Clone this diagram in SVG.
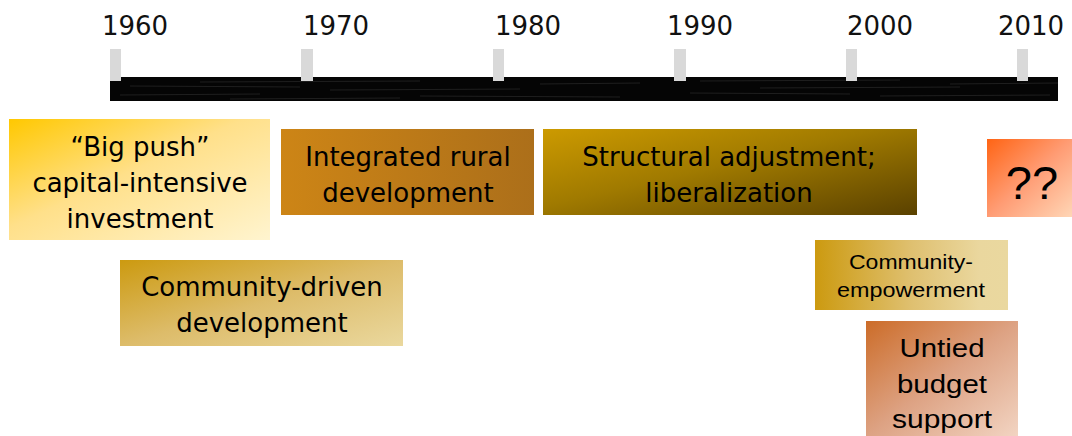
<svg xmlns="http://www.w3.org/2000/svg" width="1072" height="436" viewBox="0 0 1072 436">
  <defs>
    <linearGradient id="gBig" x1="0" y1="0" x2="1" y2="1">
      <stop offset="0" stop-color="#FFC800"/>
      <stop offset="0.45" stop-color="#FFE08A"/>
      <stop offset="1" stop-color="#FFF4CF"/>
    </linearGradient>
    <linearGradient id="gInt" x1="0" y1="0" x2="1" y2="0">
      <stop offset="0" stop-color="#CD8516"/>
      <stop offset="1" stop-color="#AC6F1A"/>
    </linearGradient>
    <linearGradient id="gStr" x1="0" y1="0" x2="1" y2="1">
      <stop offset="0" stop-color="#CC9A00"/>
      <stop offset="0.45" stop-color="#A07A00"/>
      <stop offset="1" stop-color="#5A4100"/>
    </linearGradient>
    <linearGradient id="gQ" x1="0" y1="0" x2="1" y2="1">
      <stop offset="0" stop-color="#FF6414"/>
      <stop offset="0.5" stop-color="#FF9C74"/>
      <stop offset="1" stop-color="#FFD6B6"/>
    </linearGradient>
    <linearGradient id="gEmp" x1="0" y1="0" x2="1" y2="0">
      <stop offset="0" stop-color="#CC9A10"/>
      <stop offset="0.5" stop-color="#DFC070"/>
      <stop offset="0.85" stop-color="#EAD79E"/>
      <stop offset="1" stop-color="#EAD89F"/>
    </linearGradient>
    <linearGradient id="gUnt" x1="0" y1="0" x2="1" y2="1">
      <stop offset="0" stop-color="#CC6C28"/>
      <stop offset="0.5" stop-color="#DDA283"/>
      <stop offset="1" stop-color="#F2D4C2"/>
    </linearGradient>
    <linearGradient id="gCdd" x1="0" y1="0" x2="1" y2="1">
      <stop offset="0" stop-color="#CC9A10"/>
      <stop offset="0.5" stop-color="#DDBC6A"/>
      <stop offset="1" stop-color="#EAD89E"/>
    </linearGradient>
  </defs>
  <style>
    .yr { font-family: "DejaVu Sans", Verdana, sans-serif; font-size: 26px; fill: #111; text-anchor: middle; }
    .tk { fill: #D9D9D9; }
    .lbl { font-family: "DejaVu Sans", Verdana, sans-serif; font-size: 26px; fill: #000; text-anchor: middle; }
    .lbla { font-family: "Liberation Sans", Arial, sans-serif; fill: #000; text-anchor: middle; }
    .streak { stroke: #5a5a5a; stroke-width: 1; opacity: 0.3; }
  </style>

  <g id="timeline">
    <rect x="110" y="77" width="948" height="24" fill="#050505"/>
    <line class="streak" x1="200" y1="82" x2="420" y2="81"/>
    <line class="streak" x1="130" y1="86" x2="300" y2="87"/>
    <line class="streak" x1="330" y1="90" x2="520" y2="89"/>
    <line class="streak" x1="120" y1="95" x2="260" y2="94"/>
    <line class="streak" x1="420" y1="96" x2="620" y2="97"/>
    <line class="streak" x1="540" y1="84" x2="640" y2="83"/>
    <line class="streak" x1="700" y1="81" x2="900" y2="80"/>
    <line class="streak" x1="760" y1="88" x2="960" y2="87"/>
    <line class="streak" x1="690" y1="93" x2="850" y2="94"/>
    <line class="streak" x1="880" y1="96" x2="1050" y2="95"/>
    <line class="streak" x1="950" y1="84" x2="1058" y2="83"/>
    <line class="streak" x1="230" y1="99" x2="400" y2="98"/>
    <rect class="tk" x="110" y="49" width="11" height="32"/>
    <rect class="tk" x="301" y="49" width="12" height="32"/>
    <rect class="tk" x="493" y="49" width="11" height="32"/>
    <rect class="tk" x="674" y="49" width="12" height="32"/>
    <rect class="tk" x="846" y="49" width="11" height="32"/>
    <rect class="tk" x="1017" y="49" width="11" height="32"/>
    <text class="yr" x="135" y="35">1960</text>
    <text class="yr" x="336" y="35">1970</text>
    <text class="yr" x="528" y="35">1980</text>
    <text class="yr" x="700" y="35">1990</text>
    <text class="yr" x="880" y="35">2000</text>
    <text class="yr" x="1031" y="35">2010</text>
  </g>

  <g id="big-push">
    <rect x="9" y="119" width="261" height="121" fill="url(#gBig)"/>
    <text class="lbl" x="140" y="156">“Big push”</text>
    <text class="lbl" x="140" y="192">capital-intensive</text>
    <text class="lbl" x="140" y="228">investment</text>
  </g>

  <g id="integrated-rural">
    <rect x="281" y="129" width="253" height="86" fill="url(#gInt)"/>
    <text class="lbl" x="408" y="166">Integrated rural</text>
    <text class="lbl" x="408" y="202">development</text>
  </g>

  <g id="structural">
    <rect x="543" y="129" width="374" height="86" fill="url(#gStr)"/>
    <text class="lbl" x="729" y="166">Structural adjustment;</text>
    <text class="lbl" x="729" y="202">liberalization</text>
  </g>

  <g id="unknown">
    <rect x="987" y="139" width="85" height="78" fill="url(#gQ)"/>
    <text class="lbla" x="1032" y="199" font-size="47">??</text>
  </g>

  <g id="community-driven">
    <rect x="120" y="260" width="283" height="86" fill="url(#gCdd)"/>
    <text class="lbl" x="262" y="296">Community-driven</text>
    <text class="lbl" x="262" y="332">development</text>
  </g>

  <g id="community-empowerment">
    <rect x="815" y="240" width="193" height="70" fill="url(#gEmp)"/>
    <text class="lbla" x="911" y="269" font-size="20" textLength="124" lengthAdjust="spacingAndGlyphs">Community-</text>
    <text class="lbla" x="911" y="297" font-size="20" textLength="148" lengthAdjust="spacingAndGlyphs">empowerment</text>
  </g>

  <g id="untied-budget">
    <rect x="866" y="321" width="152" height="115" fill="url(#gUnt)"/>
    <text class="lbla" x="942" y="357" font-size="26" textLength="85" lengthAdjust="spacingAndGlyphs">Untied</text>
    <text class="lbla" x="942" y="393" font-size="26" textLength="90" lengthAdjust="spacingAndGlyphs">budget</text>
    <text class="lbla" x="942" y="428" font-size="26" textLength="100" lengthAdjust="spacingAndGlyphs">support</text>
  </g>
</svg>
